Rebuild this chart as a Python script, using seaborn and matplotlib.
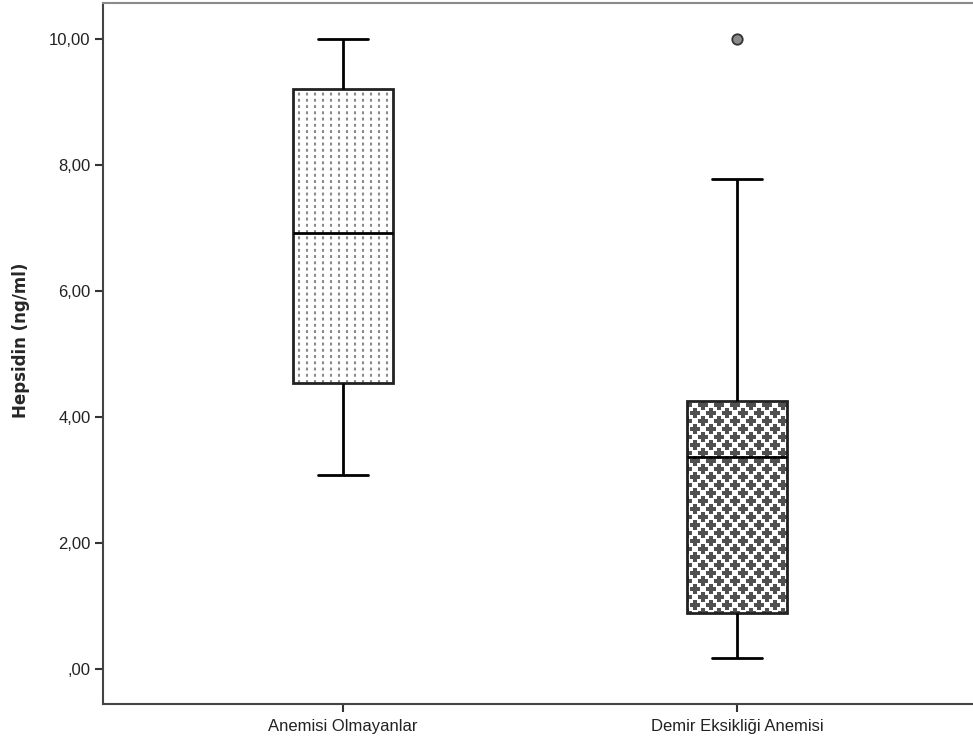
import numpy as np
import pandas as pd
import matplotlib
matplotlib.use("Agg")
import matplotlib.pyplot as plt
import seaborn as sns

# Hepsidin values (ng/ml) per group
groups = ["Anemisi Olmayanlar", "Demir Eksikliği Anemisi"]
hepsidin_non_anemic = [3.08, 4.54, 6.92, 9.21, 10.00]
hepsidin_ida = [0.17, 0.89, 0.89, 3.37, 3.37, 4.25, 4.25, 7.78, 10.00]

y_ticks = [0, 2, 4, 6, 8, 10]
y_tick_labels = [",00", "2,00", "4,00", "6,00", "8,00", "10,00"]

df = pd.DataFrame({
    "grup": [groups[0]] * len(hepsidin_non_anemic) + [groups[1]] * len(hepsidin_ida),
    "hepsidin": hepsidin_non_anemic + hepsidin_ida,
})

sns.set_style("white")
plt.rcParams["font.family"] = ["Liberation Sans", "DejaVu Sans"]

W, H, DPI = 973, 745, 100
fig = plt.figure(figsize=(W / DPI, H / DPI), dpi=DPI)
ax = fig.add_axes([103 / W, 41 / H, 874 / W, 701 / H])

sns.boxplot(
    data=df, x="grup", y="hepsidin", order=groups, ax=ax,
    width=0.256, color="white", linecolor="black", linewidth=2,
    whis=1.5,
    flierprops=dict(marker="o", markerfacecolor="#8a8a8a",
                    markeredgecolor="#333333", markersize=7.5, markeredgewidth=1.3),
    boxprops=dict(edgecolor="#222222", linewidth=2),
    capprops=dict(linewidth=2), whiskerprops=dict(linewidth=2),
    medianprops=dict(color="black", linewidth=2),
)

ax.set_xlim(-0.609, 1.609)
ax.set_ylim(-0.556, 10.571)

fig.canvas.draw()
boxes = [p for p in ax.patches]
inv = ax.transData.inverted()


def px_to_data(dx, dy):
    p0 = inv.transform((0, 0))
    p1 = inv.transform((dx, dy))
    return p1[0] - p0[0], p1[1] - p0[1]


# dotted vertical fill pattern for the first box
b0 = boxes[0]
ext0 = b0.get_path().get_extents()
sx, _ = px_to_data(8.0, 0)
xs = np.arange(ext0.x0 + sx * 0.75, ext0.x1, sx)
for xv in xs:
    ln, = ax.plot([xv, xv], [ext0.y0, ext0.y1], color="#8a8a8a", lw=1.5,
                  linestyle=(0, (1.4, 1.6)), zorder=2.5)
    ln.set_clip_path(b0)

# staggered plus-sign fill pattern for the second box
b1 = boxes[1]
ext1 = b1.get_path().get_extents()
gx, gy = px_to_data(16, 8)
pts_x, pts_y = [], []
row = 0
yv = ext1.y0
while yv <= ext1.y1 + gy:
    off = (gx / 2) if row % 2 else 0
    xv = ext1.x0 + off
    while xv <= ext1.x1 + gx:
        pts_x.append(xv)
        pts_y.append(yv)
        xv += gx
    yv += gy
    row += 1
sc = ax.scatter(pts_x, pts_y, marker="P", s=62, color="#505050",
                linewidths=0, zorder=2.5)
sc.set_clip_path(b1)

# box outlines above the fill patterns
for p in boxes:
    p.set_zorder(3)
    p.set_facecolor("none")
for ln in ax.lines:
    if ln.get_color() in ("black", "#000000"):
        ln.set_zorder(4)

ax.set_yticks(y_ticks)
ax.set_yticklabels(y_tick_labels)
ax.set_xlabel("")
ax.set_ylabel("Hepsidin (ng/ml)", fontsize=12, fontweight="bold",
              family=["DejaVu Sans"])
ax.yaxis.set_label_coords(-0.084, 0.519)

ax.tick_params(axis="both", which="both", direction="out", length=6, width=1.5,
               colors="#333333", labelcolor="#222222", labelsize=12,
               left=True, bottom=True)
ax.tick_params(axis="x", pad=5)
ax.tick_params(axis="y", pad=3)

for s in ["left", "bottom"]:
    ax.spines[s].set_color("#444444")
    ax.spines[s].set_linewidth(1.5)
ax.spines["top"].set_color("#8a8a8a")
ax.spines["top"].set_linewidth(1.5)
ax.spines["right"].set_color("#8a8a8a")
ax.spines["right"].set_linewidth(1.5)

fig.savefig("out.png", dpi=DPI)
